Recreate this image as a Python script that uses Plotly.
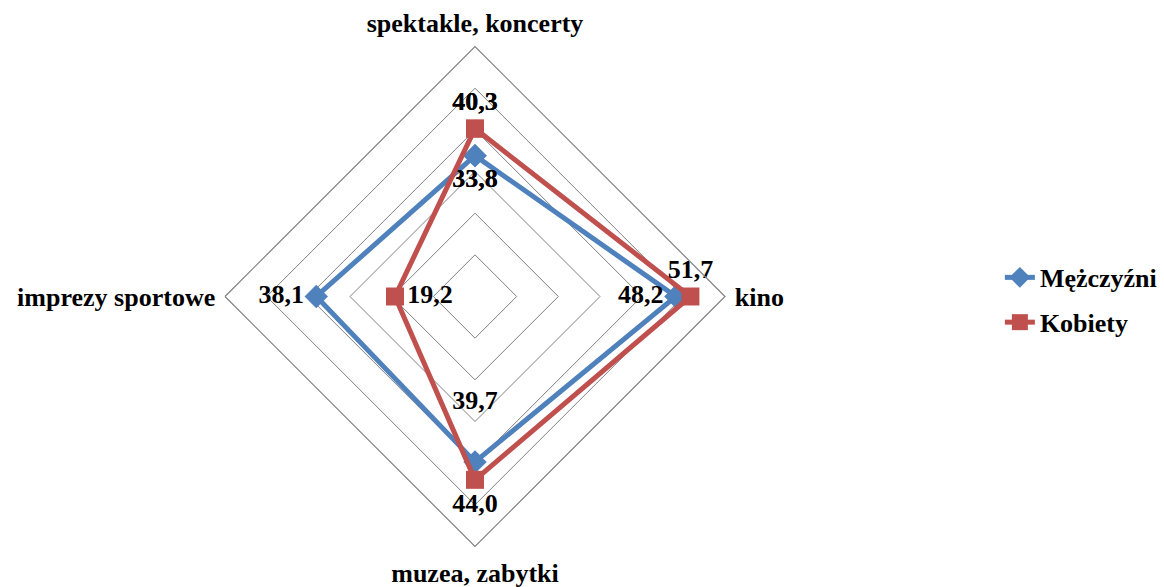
import plotly.graph_objects as go

categories = ["spektakle, koncerty", "kino", "muzea, zabytki", "imprezy sportowe"]
men = [33.8, 48.2, 39.7, 38.1]
women = [40.3, 51.7, 44.0, 19.2]
men_pos = ["bottom center", "middle left", "top center", "middle left"]
women_pos = ["top center", "top center", "bottom center", "middle right"]

BLUE = "#4F81BD"
RED = "#C0504D"
FONT = "Times New Roman, Liberation Serif, serif"


def lab(vals):
  return [f"{v:.1f}".replace(".", ",") for v in vals]


def closed(lst):
  return lst + lst[:1]


men_txt = lab(men)
men_txt[2] = men_txt[2] + "<br> "  # Excel sets this one higher above the point

fig = go.Figure()

fig.add_trace(go.Scatterpolar(
    r=closed(men), theta=closed(categories), name="Mężczyźni", legendgroup="m",
    mode="lines+markers+text", text=closed(men_txt), textposition=closed(men_pos),
    line=dict(color=BLUE, width=5), marker=dict(symbol="diamond", size=18, color=BLUE),
    textfont=dict(family=FONT, size=26, color="black", weight="bold"),
    cliponaxis=False,
))
fig.add_trace(go.Scatterpolar(
    r=closed(women), theta=closed(categories), name="Kobiety", legendgroup="k",
    mode="lines+markers+text", text=closed(lab(women)), textposition=closed(women_pos),
    line=dict(color=RED, width=5), marker=dict(symbol="square", size=18, color=RED),
    textfont=dict(family=FONT, size=26, color="black", weight="bold"),
    cliponaxis=False,
))

fig.update_layout(
    width=1164, height=587,
    margin=dict(l=0, r=0, t=0, b=0),
    paper_bgcolor="white",
    font=dict(family=FONT, size=26, color="black", weight="bold"),
    polar=dict(
        domain=dict(x=[225/1164, 725/1164], y=[1-546.5/587, 1-46.5/587]),
        bgcolor="white",
        gridshape="linear",
        radialaxis=dict(range=[0, 60], dtick=10, showticklabels=False, ticks="",
                        showline=False, gridcolor="#808080", gridwidth=1.2),
        angularaxis=dict(rotation=90, direction="clockwise", showgrid=False,
                         linecolor="#808080", linewidth=1.2,
                         ticks="outside", ticklen=4, tickcolor="rgba(0,0,0,0)",
                         tickfont=dict(family=FONT, size=26, color="black", weight="bold")),
    ),
    legend=dict(x=0.859, y=0.489, xanchor="left", yanchor="middle",
                traceorder="grouped", tracegroupgap=8,
                font=dict(family=FONT, size=26, color="black", weight="bold"),
                bgcolor="rgba(0,0,0,0)"),
)

fig.write_html("out.html", config={"displayModeBar": False},
               post_script="document.body.style.margin='0px';")
